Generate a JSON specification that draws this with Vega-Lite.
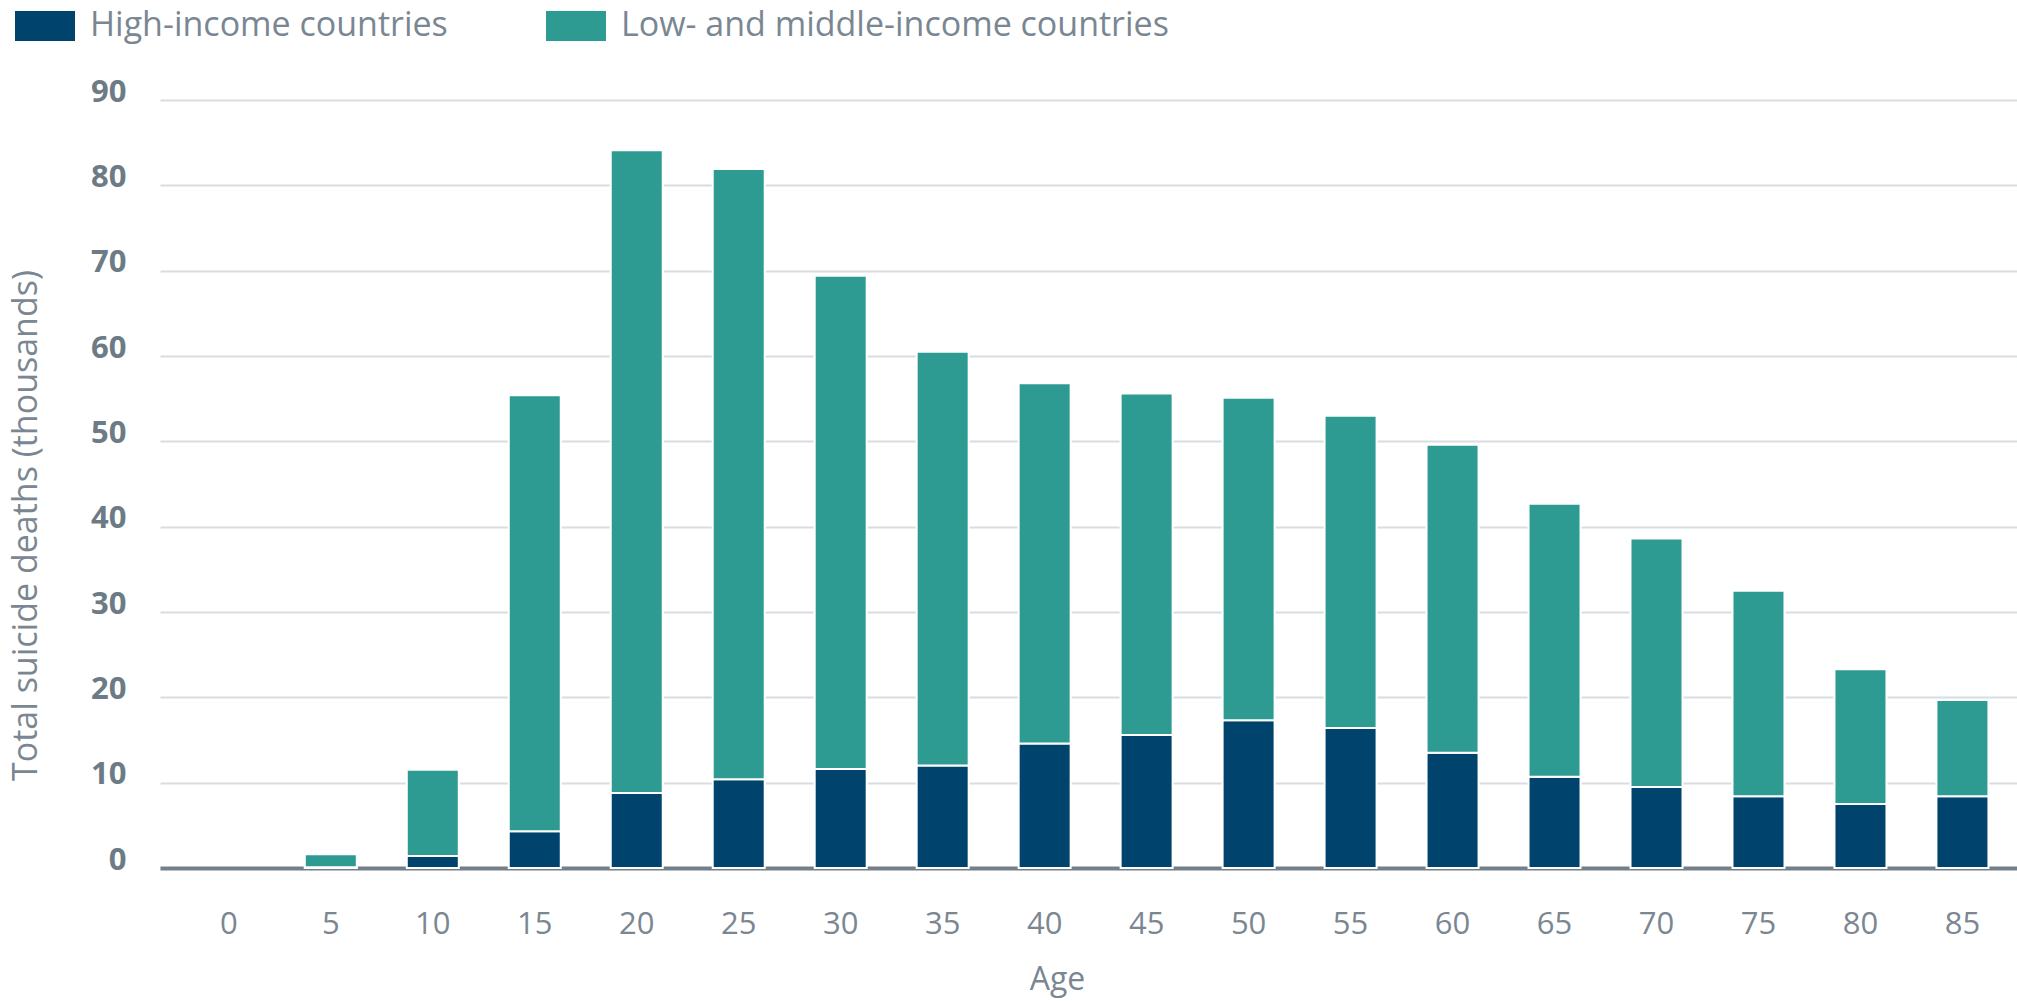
{
  "$schema": "https://vega.github.io/schema/vega-lite/v6.json",
  "width": 1857,
  "height": 768,
  "autosize": {"type": "none"},
  "padding": {"left": 160, "top": 100, "right": 0, "bottom": 133},
  "background": "white",
  "config": {
    "view": {"stroke": null},
    "font": "Open Sans"
  },
  "data": {
    "values": [
      {"age": "0", "group": "High-income countries", "deaths": 0},
      {"age": "0", "group": "Low- and middle-income countries", "deaths": 0},
      {"age": "5", "group": "High-income countries", "deaths": 0.1},
      {"age": "5", "group": "Low- and middle-income countries", "deaths": 1.5},
      {"age": "10", "group": "High-income countries", "deaths": 1.4},
      {"age": "10", "group": "Low- and middle-income countries", "deaths": 10.1},
      {"age": "15", "group": "High-income countries", "deaths": 4.3},
      {"age": "15", "group": "Low- and middle-income countries", "deaths": 51.1},
      {"age": "20", "group": "High-income countries", "deaths": 8.8},
      {"age": "20", "group": "Low- and middle-income countries", "deaths": 75.3},
      {"age": "25", "group": "High-income countries", "deaths": 10.4},
      {"age": "25", "group": "Low- and middle-income countries", "deaths": 71.5},
      {"age": "30", "group": "High-income countries", "deaths": 11.6},
      {"age": "30", "group": "Low- and middle-income countries", "deaths": 57.8},
      {"age": "35", "group": "High-income countries", "deaths": 12.0},
      {"age": "35", "group": "Low- and middle-income countries", "deaths": 48.5},
      {"age": "40", "group": "High-income countries", "deaths": 14.6},
      {"age": "40", "group": "Low- and middle-income countries", "deaths": 42.2},
      {"age": "45", "group": "High-income countries", "deaths": 15.6},
      {"age": "45", "group": "Low- and middle-income countries", "deaths": 40.0},
      {"age": "50", "group": "High-income countries", "deaths": 17.3},
      {"age": "50", "group": "Low- and middle-income countries", "deaths": 37.8},
      {"age": "55", "group": "High-income countries", "deaths": 16.4},
      {"age": "55", "group": "Low- and middle-income countries", "deaths": 36.6},
      {"age": "60", "group": "High-income countries", "deaths": 13.5},
      {"age": "60", "group": "Low- and middle-income countries", "deaths": 36.1},
      {"age": "65", "group": "High-income countries", "deaths": 10.7},
      {"age": "65", "group": "Low- and middle-income countries", "deaths": 32.0},
      {"age": "70", "group": "High-income countries", "deaths": 9.5},
      {"age": "70", "group": "Low- and middle-income countries", "deaths": 29.1},
      {"age": "75", "group": "High-income countries", "deaths": 8.4},
      {"age": "75", "group": "Low- and middle-income countries", "deaths": 24.1},
      {"age": "80", "group": "High-income countries", "deaths": 7.5},
      {"age": "80", "group": "Low- and middle-income countries", "deaths": 15.8},
      {"age": "85", "group": "High-income countries", "deaths": 8.4},
      {"age": "85", "group": "Low- and middle-income countries", "deaths": 11.3}
    ]
  },
  "mark": {"type": "bar", "stroke": "white"},
  "encoding": {
    "x": {
      "field": "age",
      "type": "ordinal",
      "sort": null,
      "scale": {"paddingInner": 0.49, "paddingOuter": 0.35, "align": 0.6},
      "axis": {
        "title": "Age",
        "labelAngle": 0,
        "labelFont": "Open Sans",
        "labelFontSize": 31,
        "labelColor": "#7a8792",
        "labelBaseline": "middle",
        "labelPadding": 56,
        "ticks": false,
        "domainColor": "#737f89",
        "domainWidth": 4,
        "grid": false,
        "titleFont": "Open Sans",
        "titleFontSize": 32,
        "titleFontWeight": "normal",
        "titleColor": "#7a8792",
        "titleBaseline": "middle",
        "titleX": 897,
        "titleY": 111
      }
    },
    "y": {
      "field": "deaths",
      "type": "quantitative",
      "stack": "zero",
      "scale": {"domain": [0, 90], "nice": false},
      "axis": {
        "title": "Total suicide deaths (thousands)",
        "values": [0, 10, 20, 30, 40, 50, 60, 70, 80, 90],
        "labelFont": "Open Sans",
        "labelFontSize": 31,
        "labelFontWeight": 700,
        "labelColor": "#6c7b85",
        "labelPadding": 34,
        "labelOffset": -8,
        "ticks": false,
        "domain": false,
        "gridColor": "#d8dde2",
        "gridWidth": 2,
        "titleFont": "Open Sans",
        "titleFontSize": 34,
        "titleFontWeight": "normal",
        "titleColor": "#7a8792",
        "titleAngle": -90,
        "titleBaseline": "middle",
        "titleX": -134,
        "titleY": 425
      }
    },
    "strokeWidth": {
      "condition": {"test": "datum.deaths > 0", "value": 2},
      "value": 0
    },
    "color": {
      "field": "group",
      "type": "nominal",
      "scale": {
        "domain": ["High-income countries", "Low- and middle-income countries"],
        "range": ["#00446e", "#2e9b93"]
      },
      "legend": {
        "title": null,
        "orient": "none",
        "direction": "horizontal",
        "legendX": -145,
        "legendY": -104,
        "symbolType": "M-1,-0.5H1V0.5H-1Z",
        "symbolSize": 3600,
        "symbolStrokeWidth": 0,
        "labelFont": "Open Sans",
        "labelFontSize": 34,
        "labelColor": "#7a8793",
        "labelOffset": 15,
        "columnPadding": 98,
        "labelLimit": 800
      }
    },
    "order": {"field": "group", "sort": "ascending"}
  }
}
